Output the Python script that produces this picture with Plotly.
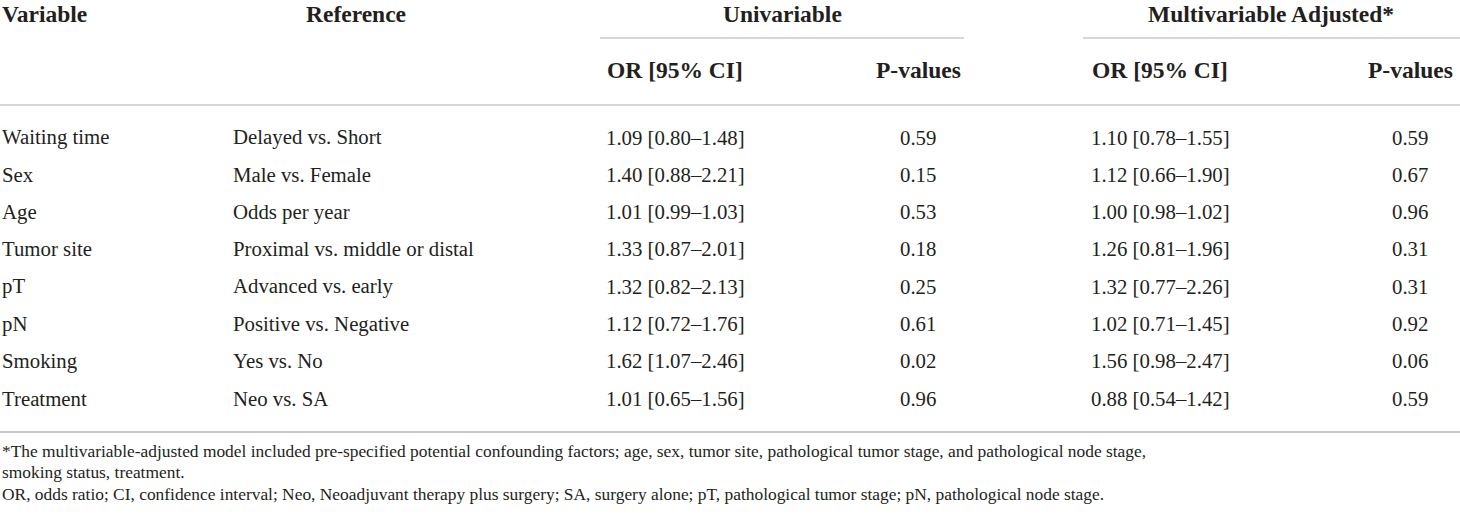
import plotly.graph_objects as go

# ---- data ----
variables = ["Waiting time", "Sex", "Age", "Tumor site", "pT", "pN", "Smoking", "Treatment"]
references = ["Delayed vs. Short", "Male vs. Female", "Odds per year",
              "Proximal vs. middle or distal", "Advanced vs. early",
              "Positive vs. Negative", "Yes vs. No", "Neo vs. SA"]
uni_or = ["1.09 [0.80–1.48]", "1.40 [0.88–2.21]", "1.01 [0.99–1.03]", "1.33 [0.87–2.01]",
          "1.32 [0.82–2.13]", "1.12 [0.72–1.76]", "1.62 [1.07–2.46]", "1.01 [0.65–1.56]"]
uni_p = ["0.59", "0.15", "0.53", "0.18", "0.25", "0.61", "0.02", "0.96"]
multi_or = ["1.10 [0.78–1.55]", "1.12 [0.66–1.90]", "1.00 [0.98–1.02]", "1.26 [0.81–1.96]",
            "1.32 [0.77–2.26]", "1.02 [0.71–1.45]", "1.56 [0.98–2.47]", "0.88 [0.54–1.42]"]
multi_p = ["0.59", "0.67", "0.96", "0.31", "0.31", "0.92", "0.06", "0.59"]

group_headers = ["Univariable", "Multivariable Adjusted*"]
sub_headers = ["OR [95% CI]", "P-values"]
footnotes = [
    "*The multivariable-adjusted model included pre-specified potential confounding factors; age, sex, tumor site, pathological tumor stage, and pathological node stage,",
    "smoking status, treatment.",
    "OR, odds ratio; CI, confidence interval; Neo, Neoadjuvant therapy plus surgery; SA, surgery alone; pT, pathological tumor stage; pN, pathological node stage.",
]

# ---- layout / style ----
W, H = 1460, 517
FONT = "Liberation Serif"
TXT = "#231f20"
RULE = "#c9c9c9"
BODY = 20.8
HEAD = 23.5
FOOT = 17.4

row_y0, row_step = 137, 37.3
cols = [  # (x, anchor)
    (0, "left"), (231, "left"), (675, "center"), (918, "center"), (1160, "center"), (1410, "center")
]

fig = go.Figure()
ann = []

def add(text, x, y, anchor, size, bold=False):
    ann.append(dict(text=("<b>%s</b>" % text) if bold else text, x=x, y=y, xref="x", yref="y",
                    xanchor=anchor, yanchor="middle", showarrow=False,
                    font=dict(family=FONT, size=size, color=TXT)))

# header
add("Variable", 0, 14, "left", HEAD, True)
add("Reference", 356, 14, "center", HEAD, True)
add(group_headers[0], 782, 14, "center", HEAD, True)
add(group_headers[1], 1271, 14, "center", HEAD, True)
for i, (x, _) in enumerate(cols[2:]):
    add(sub_headers[i % 2], x, 70, "center", HEAD, True)

# body
columns = [variables, references, uni_or, uni_p, multi_or, multi_p]
for ci, col in enumerate(columns):
    x, anc = cols[ci]
    for ri, val in enumerate(col):
        add(val, x, row_y0 + ri * row_step, anc, BODY)

# footnotes
for fi, t in enumerate(footnotes):
    add(t, 0, 451 + fi * 21.3, "left", FOOT)

shapes = []
def hline(x0, x1, y, w=1.6):
    shapes.append(dict(type="line", xref="x", yref="y", x0=x0, x1=x1, y0=y, y1=y,
                       line=dict(color=RULE, width=w)))

hline(600, 964, 38)
hline(1083, 1460, 38)
hline(0, 1460, 105)
hline(0, 1460, 432, 2.2)

fig.update_layout(
    width=W, height=H, margin=dict(l=0, r=0, t=0, b=0),
    paper_bgcolor="white", plot_bgcolor="white",
    xaxis=dict(range=[0, W], visible=False, fixedrange=True),
    yaxis=dict(range=[H, 0], visible=False, fixedrange=True),
    annotations=ann, shapes=shapes, showlegend=False,
)
fig.write_html("out.html", config={"displayModeBar": False},
               post_script="document.body.style.margin='0';document.body.style.overflow='hidden';")
